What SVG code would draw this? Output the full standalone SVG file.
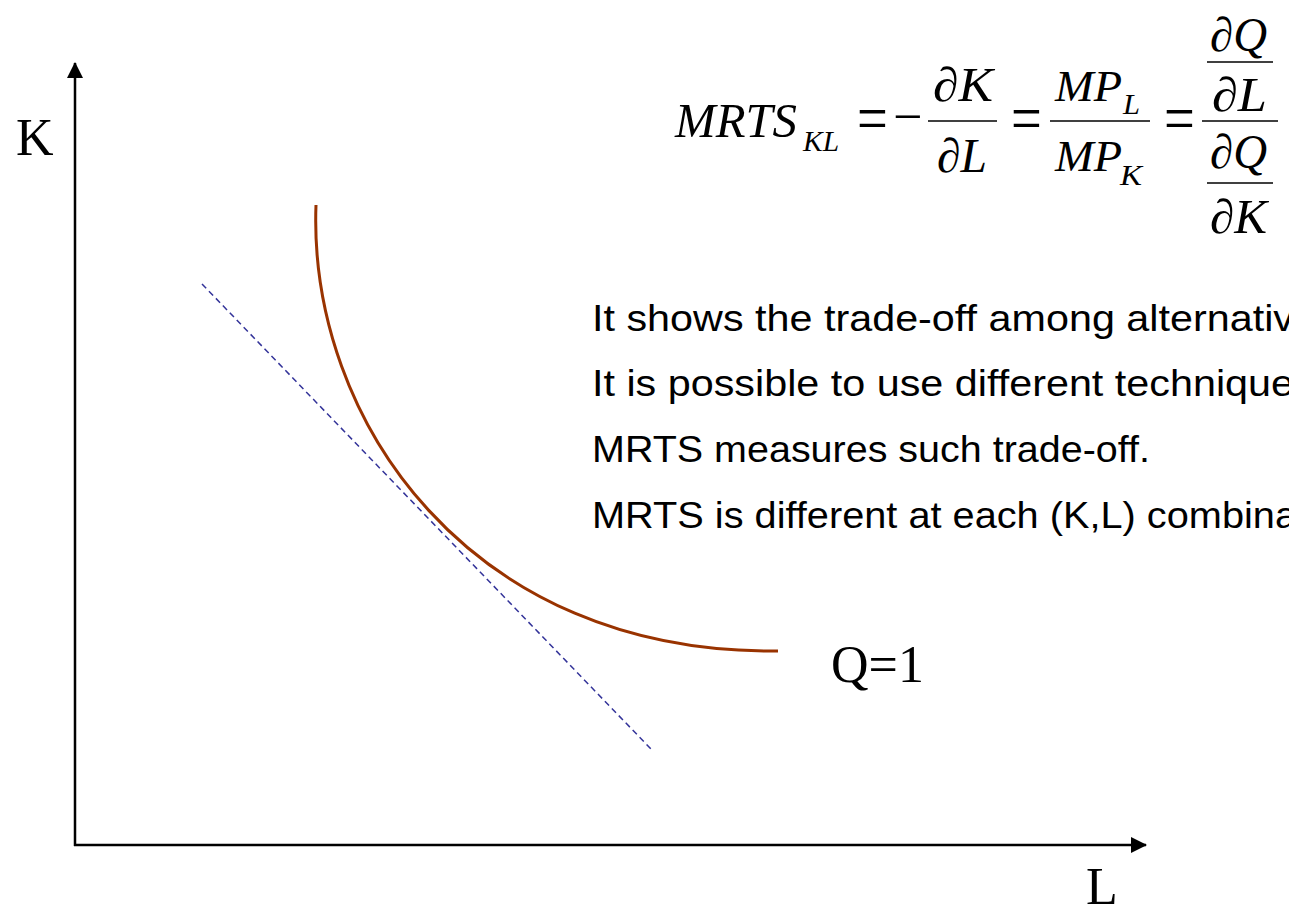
<svg xmlns="http://www.w3.org/2000/svg" width="1289" height="908" viewBox="0 0 1289 908">
<style>
.m{font-family:"Liberation Serif","Times New Roman",serif;font-style:italic;font-size:48px;fill:#000}
.mp{font-family:"Liberation Serif","Times New Roman",serif;font-style:italic;font-size:45px;fill:#000}
.ms{font-family:"Liberation Serif","Times New Roman",serif;font-style:italic;font-size:30px;fill:#000}
.op{font-family:"Liberation Serif","Times New Roman",serif;font-size:52px;fill:#000}
.lbl{font-family:"Liberation Serif","Times New Roman",serif;font-size:52px;fill:#000}
.body{font-family:"Liberation Sans",Arial,sans-serif;font-size:37px;fill:#000}
.bar{stroke:#000;stroke-width:1.5}
.axis{stroke:#000;stroke-width:2.5;fill:none}
</style>
<defs>
<marker id="arr" markerWidth="16" markerHeight="16" refX="15" refY="8" orient="auto" markerUnits="userSpaceOnUse">
<path d="M0,0 L16,8 L0,16 Z" fill="#000"/>
</marker>
</defs>
<g id="connectors">
<line class="axis" x1="75" y1="846" x2="75" y2="63" marker-end="url(#arr)"/>
<line class="axis" x1="74" y1="845" x2="1146" y2="845" marker-end="url(#arr)"/>
<line x1="202" y1="284" x2="651" y2="749" stroke="#333399" stroke-width="1.5" stroke-dasharray="6,4"/>
</g>
<g id="isoquant">
<path d="M316,205 C308,420 470,655 778,651" fill="none" stroke="#993300" stroke-width="3"/>
<text class="lbl" x="831" y="682">Q=1</text>
</g>
<g id="axis-labels">
<text class="lbl" x="16" y="155">K</text>
<text class="lbl" x="1086" y="904">L</text>
</g>
<g id="formula">
<text class="m" x="675" y="137" textLength="122" lengthAdjust="spacingAndGlyphs">MRTS</text>
<text class="ms" x="803" y="151" textLength="36" lengthAdjust="spacingAndGlyphs">KL</text>
<text class="op" transform="translate(857,121) scale(1.05,1.3)" y="15">=</text>
<text class="op" transform="translate(893,121)" y="13">−</text>
<line class="bar" x1="928" y1="121" x2="997" y2="121"/>
<text class="m" x="933" y="101" textLength="60" lengthAdjust="spacingAndGlyphs">∂K</text>
<text class="m" x="937" y="172" textLength="50" lengthAdjust="spacingAndGlyphs">∂L</text>
<text class="op" transform="translate(1011,121) scale(1.05,1.3)" y="15">=</text>
<line class="bar" x1="1050" y1="121" x2="1150" y2="121"/>
<text class="mp" x="1055" y="101" textLength="67" lengthAdjust="spacingAndGlyphs">MP</text>
<text class="ms" x="1123" y="114" textLength="17" lengthAdjust="spacingAndGlyphs">L</text>
<text class="mp" x="1055" y="171" textLength="67" lengthAdjust="spacingAndGlyphs">MP</text>
<text class="ms" x="1120" y="185" textLength="22" lengthAdjust="spacingAndGlyphs">K</text>
<text class="op" transform="translate(1164,121) scale(1.05,1.3)" y="15">=</text>
<line class="bar" x1="1202" y1="121" x2="1278" y2="121"/>
<line class="bar" x1="1207" y1="62" x2="1273" y2="62"/>
<line class="bar" x1="1207" y1="183" x2="1273" y2="183"/>
<text class="m" x="1210" y="51" textLength="57" lengthAdjust="spacingAndGlyphs">∂Q</text>
<text class="m" x="1212" y="111" textLength="55" lengthAdjust="spacingAndGlyphs">∂L</text>
<text class="m" x="1210" y="168" textLength="57" lengthAdjust="spacingAndGlyphs">∂Q</text>
<text class="m" x="1210" y="233" textLength="57" lengthAdjust="spacingAndGlyphs">∂K</text>
</g>
<g id="notes">
<text class="body" x="592" y="331" textLength="702" lengthAdjust="spacingAndGlyphs">It shows the trade-off among alternativ</text>
<text class="body" x="592" y="396" textLength="702" lengthAdjust="spacingAndGlyphs">It is possible to use different technique</text>
<text class="body" x="592" y="462" textLength="558" lengthAdjust="spacingAndGlyphs">MRTS measures such trade-off.</text>
<text class="body" x="592" y="528" textLength="705" lengthAdjust="spacingAndGlyphs">MRTS is different at each (K,L) combina</text>
</g>
</svg>
